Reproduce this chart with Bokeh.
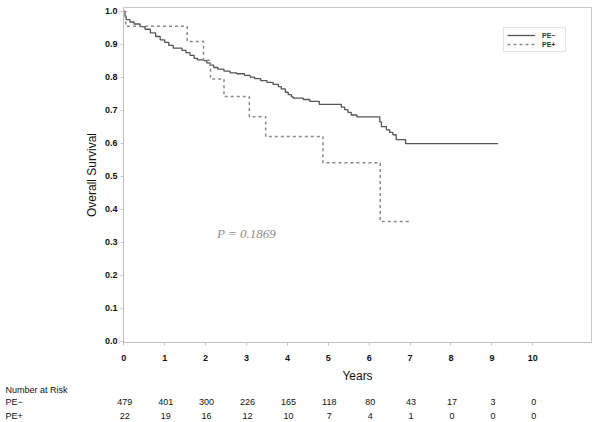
from bokeh.plotting import figure
from bokeh.models import (ColumnDataSource, Label, Legend, LegendItem,
                          FixedTicker, PrintfTickFormatter, Range1d)
from bokeh.layouts import column
from bokeh.core.properties import value
from bokeh.embed import file_html
from bokeh.resources import INLINE

# ---- data ----
pe_neg_time = [0.00, 0.03, 0.06, 0.15, 0.25, 0.40, 0.52, 0.65, 0.78, 0.89, 1.00, 1.10,
               1.21, 1.42, 1.52, 1.62, 1.72, 1.80, 1.95, 2.03, 2.11, 2.20, 2.30, 2.45,
               2.60, 2.76, 2.95, 3.09, 3.20, 3.35, 3.50, 3.65, 3.78, 3.85, 3.95, 4.02,
               4.10, 4.14, 4.39, 4.55, 4.78, 5.32, 5.40, 5.48, 5.56, 5.70, 6.26, 6.30,
               6.42, 6.50, 6.58, 6.66, 6.89, 9.15]
pe_neg_surv = [1.000, 0.985, 0.975, 0.968, 0.962, 0.954, 0.946, 0.935, 0.924, 0.914, 0.906, 0.897,
               0.889, 0.882, 0.875, 0.867, 0.858, 0.853, 0.851, 0.844, 0.837, 0.830, 0.825, 0.819,
               0.814, 0.811, 0.806, 0.801, 0.796, 0.790, 0.785, 0.779, 0.772, 0.765, 0.755, 0.748,
               0.741, 0.737, 0.733, 0.727, 0.718, 0.710, 0.702, 0.694, 0.686, 0.680, 0.665, 0.651,
               0.641, 0.633, 0.626, 0.611, 0.599, 0.599]

pe_pos_time = [0.00, 0.05, 1.55, 1.95, 2.12, 2.45, 3.07, 3.47, 4.87, 6.27, 7.01]
pe_pos_surv = [1.000, 0.955, 0.909, 0.852, 0.795, 0.742, 0.681, 0.621, 0.541, 0.363, 0.363]

risk_years = [0, 1, 2, 3, 4, 5, 6, 7, 8, 9, 10]
risk_pe_neg = [479, 401, 300, 226, 165, 118, 80, 43, 17, 3, 0]
risk_pe_pos = [22, 19, 16, 12, 10, 7, 4, 1, 0, 0, 0]

group_labels = ["PE\u2212", "PE+"]
table_title = "Number at Risk"
p_value_text = "P = 0.1869"
y_ticks = [0.0, 0.1, 0.2, 0.3, 0.4, 0.5, 0.6, 0.7, 0.8, 0.9, 1.0]
x_ticks = [0, 1, 2, 3, 4, 5, 6, 7, 8, 9, 10]

FONT = "Liberation Sans"
W = 600
H_MAIN = 385
H_TABLE = 37
BORDER_L = 123
FRAME_W = 468
X0 = -0.007          # x value at frame left
PX_PER_YEAR = 40.9

# ---------------- main plot ----------------
p = figure(width=W, height=H_MAIN, output_backend="svg", toolbar_location=None,
           x_range=Range1d(X0, X0 + FRAME_W / PX_PER_YEAR), y_range=Range1d(-0.004, 1.012),
           min_border_left=BORDER_L, min_border_right=W - BORDER_L - FRAME_W,
           min_border_top=7, min_border_bottom=41)
p.frame_align = False
p.grid.visible = False
p.outline_line_color = "#c8c8c8"
p.outline_line_width = 1

r_neg = p.step(pe_neg_time, pe_neg_surv, mode="after", line_color="#555555", line_width=1.3)
r_pos = p.step(pe_pos_time, pe_pos_surv, mode="after", line_color="#8a8a8a", line_width=1.5,
               line_dash="3 3")

for ax in (p.xaxis[0], p.yaxis[0]):
    ax.axis_line_color = "#c0c0c0"
    ax.major_tick_line_color = "#c0c0c0"
    ax.major_tick_out = 3
    ax.major_tick_in = 0
    ax.minor_tick_line_color = None
    ax.major_label_text_font = FONT
    ax.major_label_text_font_size = "9px"
    ax.major_label_text_font_style = "bold"
    ax.major_label_text_color = "#111111"
    ax.axis_label_text_font = FONT
    ax.axis_label_text_font_size = "12px"
    ax.axis_label_text_font_style = "normal"
    ax.axis_label_text_color = "#111111"

p.xaxis.ticker = FixedTicker(ticks=x_ticks)
p.yaxis.ticker = FixedTicker(ticks=y_ticks)
p.yaxis.formatter = PrintfTickFormatter(format="%.1f")
p.xaxis.axis_label = "Years"
p.yaxis.axis_label = "Overall Survival"
p.xaxis.major_label_standoff = 9
p.yaxis.major_label_standoff = 3
p.xaxis.axis_label_standoff = 5
p.yaxis.axis_label_standoff = 3

legend = Legend(items=[LegendItem(label=group_labels[0], renderers=[r_neg]),
                       LegendItem(label=group_labels[1], renderers=[r_pos])],
                location=(380, 290))
legend.label_text_font = FONT
legend.label_text_font_size = "7px"
legend.label_text_font_style = "bold"
legend.label_text_color = "#333333"
legend.glyph_width = 28
legend.glyph_height = 8
legend.label_height = 8
legend.label_standoff = 7
legend.spacing = 1
legend.padding = 3
legend.margin = 0
legend.border_line_color = "#c8c8c8"
p.add_layout(legend)

p.add_layout(Label(x=3.0, y=0.328, text=p_value_text, text_font="Liberation Serif",
                   text_font_style="italic", text_font_size="13px", text_color="#8c8c8c",
                   text_align="center", text_baseline="middle"))

# ---------------- number-at-risk table ----------------
t = figure(width=W, height=H_TABLE, output_backend="svg", toolbar_location=None,
           x_axis_location=None, y_axis_location=None,
           x_range=Range1d(X0 - BORDER_L / PX_PER_YEAR, X0 + (W - BORDER_L) / PX_PER_YEAR),
           y_range=Range1d(H_TABLE, 0),
           min_border_left=0, min_border_right=0, min_border_top=0, min_border_bottom=0)
t.frame_align = False
t.grid.visible = False
t.outline_line_color = None

label_x = -2.89
row_y = [4.0, 16.7, 30.0]
t.text(x=[label_x] * 3, y=row_y, text=[table_title] + group_labels,
       text_font=value(FONT), text_font_size="9px", text_color="#111111",
       text_baseline="middle", text_align="left")

src = ColumnDataSource(dict(x=risk_years,
                            y1=[row_y[1]] * len(risk_years),
                            y2=[row_y[2]] * len(risk_years),
                            n1=[str(v) for v in risk_pe_neg],
                            n2=[str(v) for v in risk_pe_pos]))
for ycol, tcol in (("y1", "n1"), ("y2", "n2")):
    t.text(x="x", y=ycol, text=tcol, source=src, text_font=value(FONT),
           text_font_size="9px", text_color="#111111",
           text_align="center", text_baseline="middle", x_offset=1)

layout = column(p, t, spacing=0)
open("out.html", "w").write(file_html(layout, INLINE))
